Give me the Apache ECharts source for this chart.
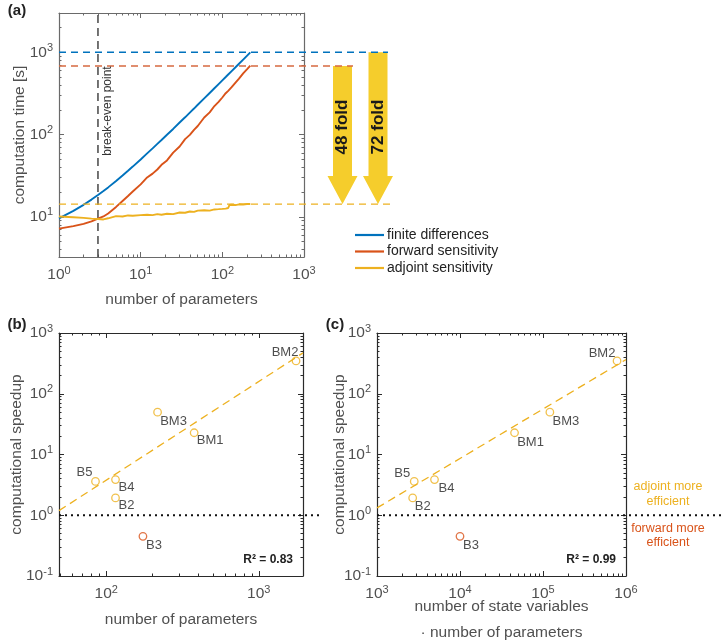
<!DOCTYPE html>
<html><head><meta charset="utf-8">
<script src="https://cdn.jsdelivr.net/npm/echarts@6/dist/echarts.min.js"></script>
<style>html,body{margin:0;padding:0;background:#fff}#c{width:725px;height:644px}</style>
</head><body><div id="c"></div>
<script>
// ---------------- data ----------------
// panel (a): computation time [s] vs number of parameters
const nParams = [1, 1.5, 2, 2.5, 3, 3.5, 4, 5, 6, 7, 8, 10, 12, 14, 16, 18, 21, 25, 30, 35, 40, 45, 50, 60, 70, 80, 90, 100, 110, 118, 122, 130, 145, 160, 180, 200, 220];
const finiteDifferences = [9.6, 11.8, 14.0, 16.2, 18.4, 20.6, 22.8, 27.3, 31.8, 36.3, 40.8, 49.8, 59, 68, 77, 86, 99.5, 117, 140, 162, 185, 207, 230, 275, 320, 365, 410, 455, 500, 536, 554, 590, 657, 725, 815, 905, 995];
const forwardSensitivity = [7.2, 7.7, 8.2, 8.8, 9.5, 10.1, 11.0, 13.2, 15.6, 17.9, 20.3, 24.8, 30.1, 33.5, 37.6, 42.9, 48.5, 60.2, 71.5, 88, 99, 114, 127, 161, 186, 222, 250, 282, 318, 340, 356, 376, 428, 478, 555, 620, 687];
const adjointSensitivity = [10.1, 9.9, 9.7, 9.5, 9.4, 9.3, 9.6, 10.2, 10.1, 10.4, 10.3, 10.5, 10.6, 10.5, 10.8, 10.6, 10.9, 10.8, 11.3, 11.2, 11.6, 11.5, 11.9, 12.0, 11.9, 12.3, 12.4, 12.5, 12.6, 12.8, 13.9, 14.0, 13.9, 14.2, 14.1, 14.3, 14.3];
const breakEvenPoint = 3;
const finalTimes = [1000, 681, 14.3]; // finite, forward, adjoint
const foldLabels = ['48 fold', '72 fold'];

// panels (b), (c): computational speedup
const models = ['BM2', 'BM3', 'BM1', 'B5', 'B4', 'B2', 'B3'];
const numberOfParameters = [1755, 217, 377, 85, 115, 115, 174];
const statesTimesParameters = [7.8e5, 1.21e5, 4.54e4, 2810, 4930, 2690, 1.0e4];
const speedup = [347, 49.7, 22.8, 3.6, 3.87, 1.93, 0.45];
const fitB_x = [49, 1950], fitB_y = [1.19, 470];
const fitC_x = [1e3, 1e6], fitC_y = [1.32, 365];
const r2 = ['R² = 0.83', 'R² = 0.99'];

// label placements (text centre offset from marker, px)
const labelOffsetB = [[-11, -9], [16, 9], [16, 8], [-11, -9], [11, 8], [11, 8], [11, 9]];
const labelOffsetC = [[-15, -8], [16, 9], [16, 10], [-12, -8], [12, 9], [10, 9], [11, 9]];

// ---------------- styling ----------------
const BLUE = '#0072BD', RED = '#D95319', YEL = '#EDB120', ARROW = '#F5CD2C';
const FONT = "'Liberation Sans', Arial, Helvetica, sans-serif";
const TXT = '#505050';
const L = Math.log10;

function logTicks(lo, hi) {
  const major = [], minor = [];
  for (let k = Math.floor(lo) - 1; k <= Math.ceil(hi); k++) {
    if (k >= lo - 1e-9 && k <= hi + 1e-9) major.push(k);
    for (let m = 2; m <= 9; m++) {
      const v = k + L(m);
      if (v > lo && v < hi) minor.push(v);
    }
  }
  return { major, minor };
}
const rich = {
  b: { fontSize: 15.5, fontFamily: FONT, color: TXT, lineHeight: 20 },
  s: { fontSize: 11, fontFamily: FONT, color: TXT, verticalAlign: 'top', lineHeight: 11 }
};
const fmt = v => '{b|10}{s|' + Math.round(v) + '}';

const xAxes = [], yAxes = [];
function addAxes(list, dim, grid, lo, hi, boxColor, name, nameGap, nameLH) {
  const t = logTicks(lo, hi);
  const sides = dim === 'x' ? ['bottom', 'top'] : ['left', 'right'];
  const start = list.length;
  sides.forEach((pos, si) => {
    [true, false].forEach(isMajor => {
      const main = si === 0 && isMajor;
      list.push({
        type: 'value', gridIndex: grid, position: pos, min: lo, max: hi,
        axisLine: { show: isMajor, onZero: false, lineStyle: { color: boxColor, width: 1.2 } },
        axisTick: { show: true, inside: true, length: isMajor ? 5 : 2.5, customValues: isMajor ? t.major : t.minor,
                    lineStyle: { color: boxColor, width: 1 } },
        axisLabel: { show: main, customValues: t.major, formatter: fmt, rich: rich, margin: dim === 'x' ? 8 : 6 },
        splitLine: { show: false },
        name: main ? name : '',
        nameLocation: 'middle', nameGap: nameGap, nameMoveOverlap: false,
        nameTextStyle: { fontSize: 15.5, fontFamily: FONT, color: TXT, lineHeight: nameLH }
      });
    });
  });
  return start;
}
// grid 0 (a)
const xa = addAxes(xAxes, 'x', 0, 0, 3, '#6a6a6a', 'number of parameters', 30, 25);
const ya = addAxes(yAxes, 'y', 0, L(3.25), L(3000), '#6a6a6a', 'computation time [s]', 31, 16);
// grid 1 (b)
const xb = addAxes(xAxes, 'x', 1, L(49), L(1950), '#2a2a2a', 'number of parameters', 31, 25);
const yb = addAxes(yAxes, 'y', 1, -1, 3, '#2a2a2a', 'computational speedup', 34, 16);
// grid 2 (c)
const xc = addAxes(xAxes, 'x', 2, 3, 6, '#2a2a2a', 'number of state variables\n· number of parameters', 18, 26);
const yc = addAxes(yAxes, 'y', 2, -1, 3, '#2a2a2a', 'computational speedup', 29, 16);

const curve = (ys) => nParams.map((n, i) => [L(n), L(ys[i])]);
const lineSeries = (name, ys, color) => ({
  name, type: 'line', xAxisIndex: xa, yAxisIndex: ya, data: curve(ys), showSymbol: false,
  lineStyle: { color, width: 1.9 }, itemStyle: { color }, z: 3, silent: true
});
function scatter(xs, offs, xi, yi) {
  return {
    type: 'scatter', xAxisIndex: xi, yAxisIndex: yi, symbol: 'circle', symbolSize: 7.5, z: 5,
    data: models.map((m, i) => ({
      value: [L(xs[i]), L(speedup[i])], name: m,
      itemStyle: { color: 'rgba(255,255,255,0)', borderColor: speedup[i] < 1 ? RED : YEL, borderWidth: 1.3 },
      label: { show: true, position: 'inside', offset: offs[i], formatter: m, fontSize: 13, fontFamily: FONT, color: '#222' }
    }))
  };
}
const fitLine = (xs, ys, xi, yi) => ({
  type: 'line', xAxisIndex: xi, yAxisIndex: yi, showSymbol: false, silent: true, z: 4,
  data: xs.map((x, i) => [L(x), L(ys[i])]), lineStyle: { color: YEL, width: 1.3, type: [8, 5] }
});

const option = {
  animation: false,
  grid: [
    { left: 59, top: 13, width: 245, height: 244, outerBoundsMode: 'none', containLabel: false },
    { left: 59, top: 333, width: 244, height: 243, outerBoundsMode: 'none', containLabel: false },
    { left: 377, top: 333, width: 249, height: 243, outerBoundsMode: 'none', containLabel: false }
  ],
  xAxis: xAxes, yAxis: yAxes,
  legend: {
    data: ['finite differences', 'forward sensitivity', 'adjoint sensitivity'],
    orient: 'vertical', left: 350, top: 223, itemWidth: 29, itemHeight: 2.2, icon: 'rect', itemGap: 2.5,
    textStyle: { fontSize: 14, fontFamily: FONT, color: '#222', padding: [0, 0, 0, -2] }
  },
  series: [
    {
      type: 'line', xAxisIndex: xa, yAxisIndex: ya, showSymbol: false, silent: true, z: 2,
      data: [[L(breakEvenPoint), L(3.25)], [L(breakEvenPoint), L(3000)]],
      lineStyle: { color: '#454545', width: 1.5, type: [8, 5] }
    },
    lineSeries('finite differences', finiteDifferences, BLUE),
    lineSeries('forward sensitivity', forwardSensitivity, RED),
    lineSeries('adjoint sensitivity', adjointSensitivity, YEL),
    fitLine(fitB_x, fitB_y, xb, yb),
    scatter(numberOfParameters, labelOffsetB, xb, yb),
    fitLine(fitC_x, fitC_y, xc, yc),
    scatter(statesTimesParameters, labelOffsetC, xc, yc)
  ]
};

const chart = echarts.init(document.getElementById('c'), null, { renderer: 'canvas' });
chart.setOption(option);

// annotations placed through the axes' own scales
const yA = v => chart.convertToPixel({ yAxisIndex: ya }, L(v));
const xA = v => chart.convertToPixel({ xAxisIndex: xa }, L(v));
const yB = v => chart.convertToPixel({ yAxisIndex: yb }, L(v));
const yC = v => chart.convertToPixel({ yAxisIndex: yc }, L(v));
const xB = v => chart.convertToPixel({ xAxisIndex: xb }, v);
const xC = v => chart.convertToPixel({ xAxisIndex: xc }, v);
const x0 = xA(1);
const yFin = yA(finalTimes[0]), yFwd = yA(finalTimes[1]), yAdj = yA(finalTimes[2]);

function arrow(cx, top, tip, shaftW, headW, headL) {
  return {
    type: 'polygon', z: 1,
    shape: { points: [[cx - shaftW / 2, top], [cx + shaftW / 2, top], [cx + shaftW / 2, tip - headL], [cx + headW / 2, tip - headL],
                      [cx, tip], [cx - headW / 2, tip - headL], [cx - shaftW / 2, tip - headL]] },
    style: { fill: ARROW }
  };
}
const hline = (x1, x2, y, color, dash, w) => ({
  type: 'line', z: 10, shape: { x1, y1: y, x2, y2: y }, style: { stroke: color, lineWidth: w, lineDash: dash }
});
const text = (x, y, str, font, fill, rot, align) => ({
  type: 'text', z: 20, x, y, rotation: rot || 0,
  style: { text: str, font, fill, align: align || 'center', verticalAlign: 'middle', textAlign: align || 'center', textVerticalAlign: 'middle' }
});

chart.setOption({
  graphic: [
    arrow(342.5, yFwd, yAdj, 19, 30, 28),
    arrow(378, yFin, yAdj, 19, 30, 28),
    hline(x0, 388, yFin, BLUE, [7, 5], 1.3),
    hline(x0, 353, yFwd, '#D66A40', [7, 5], 1.3),
    hline(x0, 390, yAdj, YEL, [7, 5], 1.3),
    hline(xB(L(49)), 321, yB(1), '#111', [2, 4], 2),
    hline(xC(3), 724, yC(1), '#111', [2, 4], 2),
    text(342.5, 127, foldLabels[0], 'bold 17px ' + FONT, '#1a1a1a', Math.PI / 2),
    text(378, 127, foldLabels[1], 'bold 17px ' + FONT, '#1a1a1a', Math.PI / 2),
    text(108, 111, 'break-even point', '12px ' + FONT, '#333', Math.PI / 2),
    text(17, 11, '(a)', 'bold 15px ' + FONT, '#222'),
    text(17, 325, '(b)', 'bold 15px ' + FONT, '#222'),
    text(335, 325, '(c)', 'bold 15px ' + FONT, '#222'),
    text(293, 560, r2[0], 'bold 12px ' + FONT, '#222', 0, 'right'),
    text(616, 560, r2[1], 'bold 12px ' + FONT, '#222', 0, 'right'),
    text(668, 487, 'adjoint more', '12.5px ' + FONT, YEL),
    text(668, 501.5, 'efficient', '12.5px ' + FONT, YEL),
    text(668, 529, 'forward more', '12.5px ' + FONT, RED),
    text(668, 543, 'efficient', '12.5px ' + FONT, RED)
  ]
});
</script>
</body></html>
